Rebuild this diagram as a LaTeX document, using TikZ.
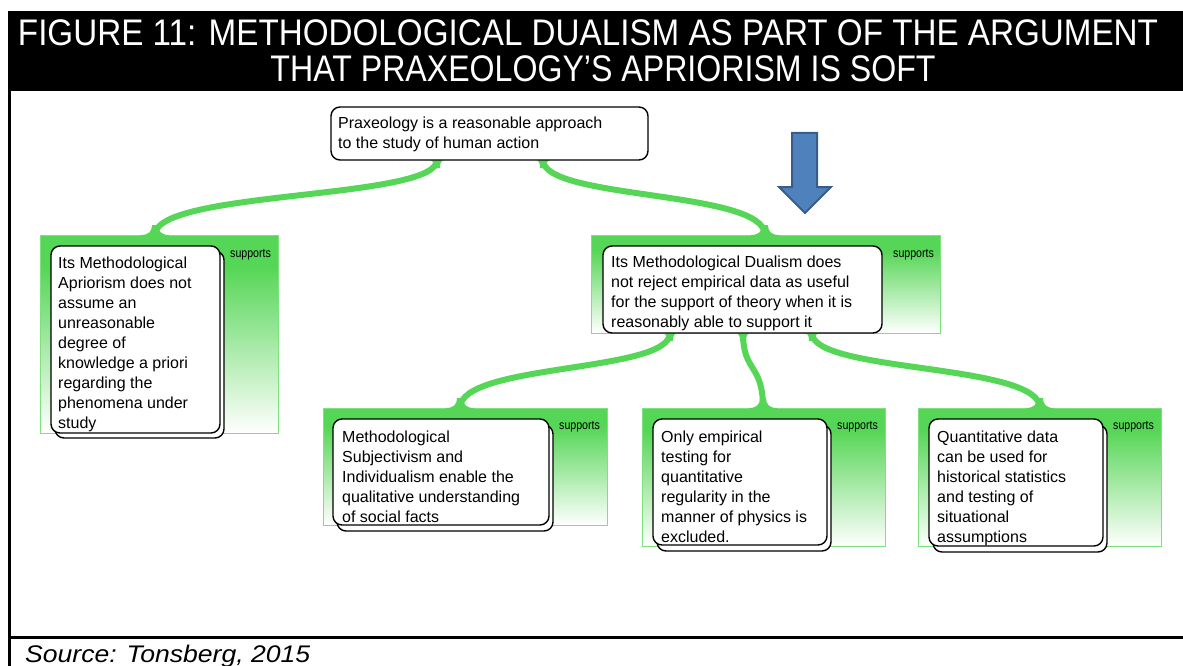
\documentclass[tikz,border=0pt]{standalone}
\usepackage{fontspec}
\usepackage{graphicx}
\setmainfont{Liberation Sans}
\newfontfamily\suppfont[FakeStretch=0.85]{Liberation Sans}
\usetikzlibrary{calc}

\definecolor{linkgreen}{RGB}{86,214,86}
\definecolor{edgegreen}{RGB}{125,226,125}
\definecolor{arrowfill}{RGB}{79,129,189}
\definecolor{arrowedge}{RGB}{56,93,138}

% solid green at the top of a group, fading to white towards its bottom
\pgfdeclareverticalshading{grpfade}{100bp}{color(0bp)=(white); color(25bp)=(white); color(67bp)=(linkgreen); color(100bp)=(linkgreen)}

\pgfdeclarelayer{groups}
\pgfdeclarelayer{links}
\pgfsetlayers{groups,links,main}

\tikzset{
  grp/.style={shade, shading=grpfade, draw=edgegreen, line width=1pt,
    anchor=north west, inner sep=0pt, outer sep=0pt},
  card/.style={draw=black, line width=1.4pt, fill=white, rounded corners=9pt,
    anchor=north west, inner sep=0pt, outer sep=0pt},
  cardtext/.style={anchor=base west, inner sep=0pt, font=\fontsize{16}{20}\selectfont},
  supp/.style={anchor=west, inner sep=0pt, font=\suppfont\fontsize{12.5}{14}\selectfont},
  link/.style={draw=linkgreen, line width=6pt},
  titletext/.style={anchor=base, text=white, inner sep=0pt, font=\fontsize{37}{40}\selectfont},
  % flare where a link meets the top of a group
  footup/.pic={\fill[linkgreen] (-14,1) -- (-14,0) .. controls (-6,0) and (-3,-4) .. (-3,-10)
      -- (3,-10) .. controls (3,-4) and (6,0) .. (14,0) -- (14,1) -- cycle;},
  % flare where a link leaves the bottom of a claim
  footdown/.pic={\fill[linkgreen] (-8,-1) -- (-8,0) .. controls (-4,0) and (-3,3) .. (-3,8)
      -- (3,8) .. controls (3,3) and (4,0) .. (8,0) -- (8,-1) -- cycle;},
}

\begin{document}
\begin{tikzpicture}[x=1pt,y=-1pt]
\useasboundingbox (0,0) rectangle (1183,666);

% frame and title bar
\fill[black] (8,11) rectangle (1183,91);
\draw[line width=3pt] (9.5,90) -- (9.5,666);
\draw[line width=3pt] (8,637) -- (1183,637);
\node[titletext] (title1) at (588,46)
  {\resizebox{1140pt}{\height}{FIGURE 11: METHODOLOGICAL DUALISM AS PART OF THE ARGUMENT}};
\node[titletext] (title2) at (603,82)
  {\resizebox{665pt}{\height}{THAT PRAXEOLOGY’S APRIORISM IS SOFT}};
\node[anchor=base west, inner sep=0pt, font=\itshape\fontsize{24}{26}\selectfont] (src) at (25,662)
  {\resizebox{285pt}{\height}{Source: Tonsberg, 2015}};

% green support groups
\begin{pgfonlayer}{groups}
\node[grp, minimum width=238pt, minimum height=198pt] (g1) at (40,235) {};
\node[grp, minimum width=349pt, minimum height=98pt]  (g2) at (591,235) {};
\node[grp, minimum width=284pt, minimum height=117pt] (g3) at (323,408) {};
\node[grp, minimum width=243pt, minimum height=138pt] (g4) at (642,408) {};
\node[grp, minimum width=243pt, minimum height=138pt] (g5) at (918,408) {};
\end{pgfonlayer}

\node[supp] (s1) at (230,255) {supports};
\node[supp] (s2) at (893,255) {supports};
\node[supp] (s3) at (559,427) {supports};
\node[supp] (s4) at (837,427) {supports};
\node[supp] (s5) at (1113,427) {supports};

% claims
\node[card, minimum width=317pt, minimum height=53pt] (root) at (331,107) {};
\node[cardtext] (troot) at (338,129) {\parbox[t]{320pt}{\raggedright
  Praxeology is a reasonable approach\\to the study of human action}};

\node[card, minimum width=169pt, minimum height=187pt] (c1back) at (55,251) {};
\node[card, minimum width=169pt, minimum height=187pt] (c1) at (51,246) {};
\node[cardtext] (t1) at (58,268) {\parbox[t]{170pt}{\raggedright
  Its Methodological\\Apriorism does not\\assume an\\unreasonable\\degree of\\knowledge a priori\\regarding the\\phenomena under\\study}};

\node[card, minimum width=279pt, minimum height=87pt] (c2) at (603,246) {};
\node[cardtext] (t2) at (611,267) {\parbox[t]{280pt}{\raggedright
  Its Methodological Dualism does\\not reject empirical data as useful\\for the support of theory when it is\\reasonably able to support it}};

\node[card, minimum width=216pt, minimum height=106pt] (c3back) at (337,425) {};
\node[card, minimum width=216pt, minimum height=106pt] (c3) at (333,419) {};
\node[cardtext] (t3) at (342,442) {\parbox[t]{220pt}{\raggedright
  Methodological\\Subjectivism and\\Individualism enable the\\qualitative understanding\\of social facts}};

\node[card, minimum width=174pt, minimum height=126pt] (c4back) at (657,425) {};
\node[card, minimum width=174pt, minimum height=126pt] (c4) at (653,419) {};
\node[cardtext] (t4) at (661,442) {\parbox[t]{180pt}{\raggedright
  Only empirical\\testing for\\quantitative\\regularity in the\\manner of physics is\\excluded.}};

\node[card, minimum width=174pt, minimum height=127pt] (c5back) at (933,425) {};
\node[card, minimum width=174pt, minimum height=127pt] (c5) at (929,419) {};
\node[cardtext] (t5) at (937,442) {\parbox[t]{180pt}{\raggedright
  Quantitative data\\can be used for\\historical statistics\\and testing of\\situational\\assumptions}};

% blue arrow
\draw[fill=arrowfill, draw=arrowedge, line width=2pt, line join=miter]
  (792,133) -- (817,133) -- (817,187) -- (831,187) -- (805,213) -- (779,187) -- (792,187) -- cycle;

% support links
\begin{pgfonlayer}{links}
\coordinate (k1a) at ($(root.south west)+(106,0)$);
\coordinate (k1b) at ($(g1.north west)+(115,0)$);
\coordinate (k2a) at ($(root.south west)+(212,0)$);
\coordinate (k2b) at ($(g2.north west)+(174,0)$);
\coordinate (k3a) at ($(c2.south west)+(67,0)$);
\coordinate (k3b) at ($(g3.north west)+(137,0)$);
\coordinate (k4a) at ($(c2.south west)+(140,0)$);
\coordinate (k4b) at ($(g4.north west)+(121,0)$);
\coordinate (k5a) at ($(c2.south west)+(209,0)$);
\coordinate (k5b) at ($(g5.north west)+(122,0)$);
\foreach \k in {1,...,5}{
  \draw[link] (k\k a) .. controls +(0,40) and +(0,-45) .. (k\k b);
  \pic at (k\k a) {footdown};
  \pic at (k\k b) {footup};
}
\end{pgfonlayer}
\end{tikzpicture}
\end{document}
